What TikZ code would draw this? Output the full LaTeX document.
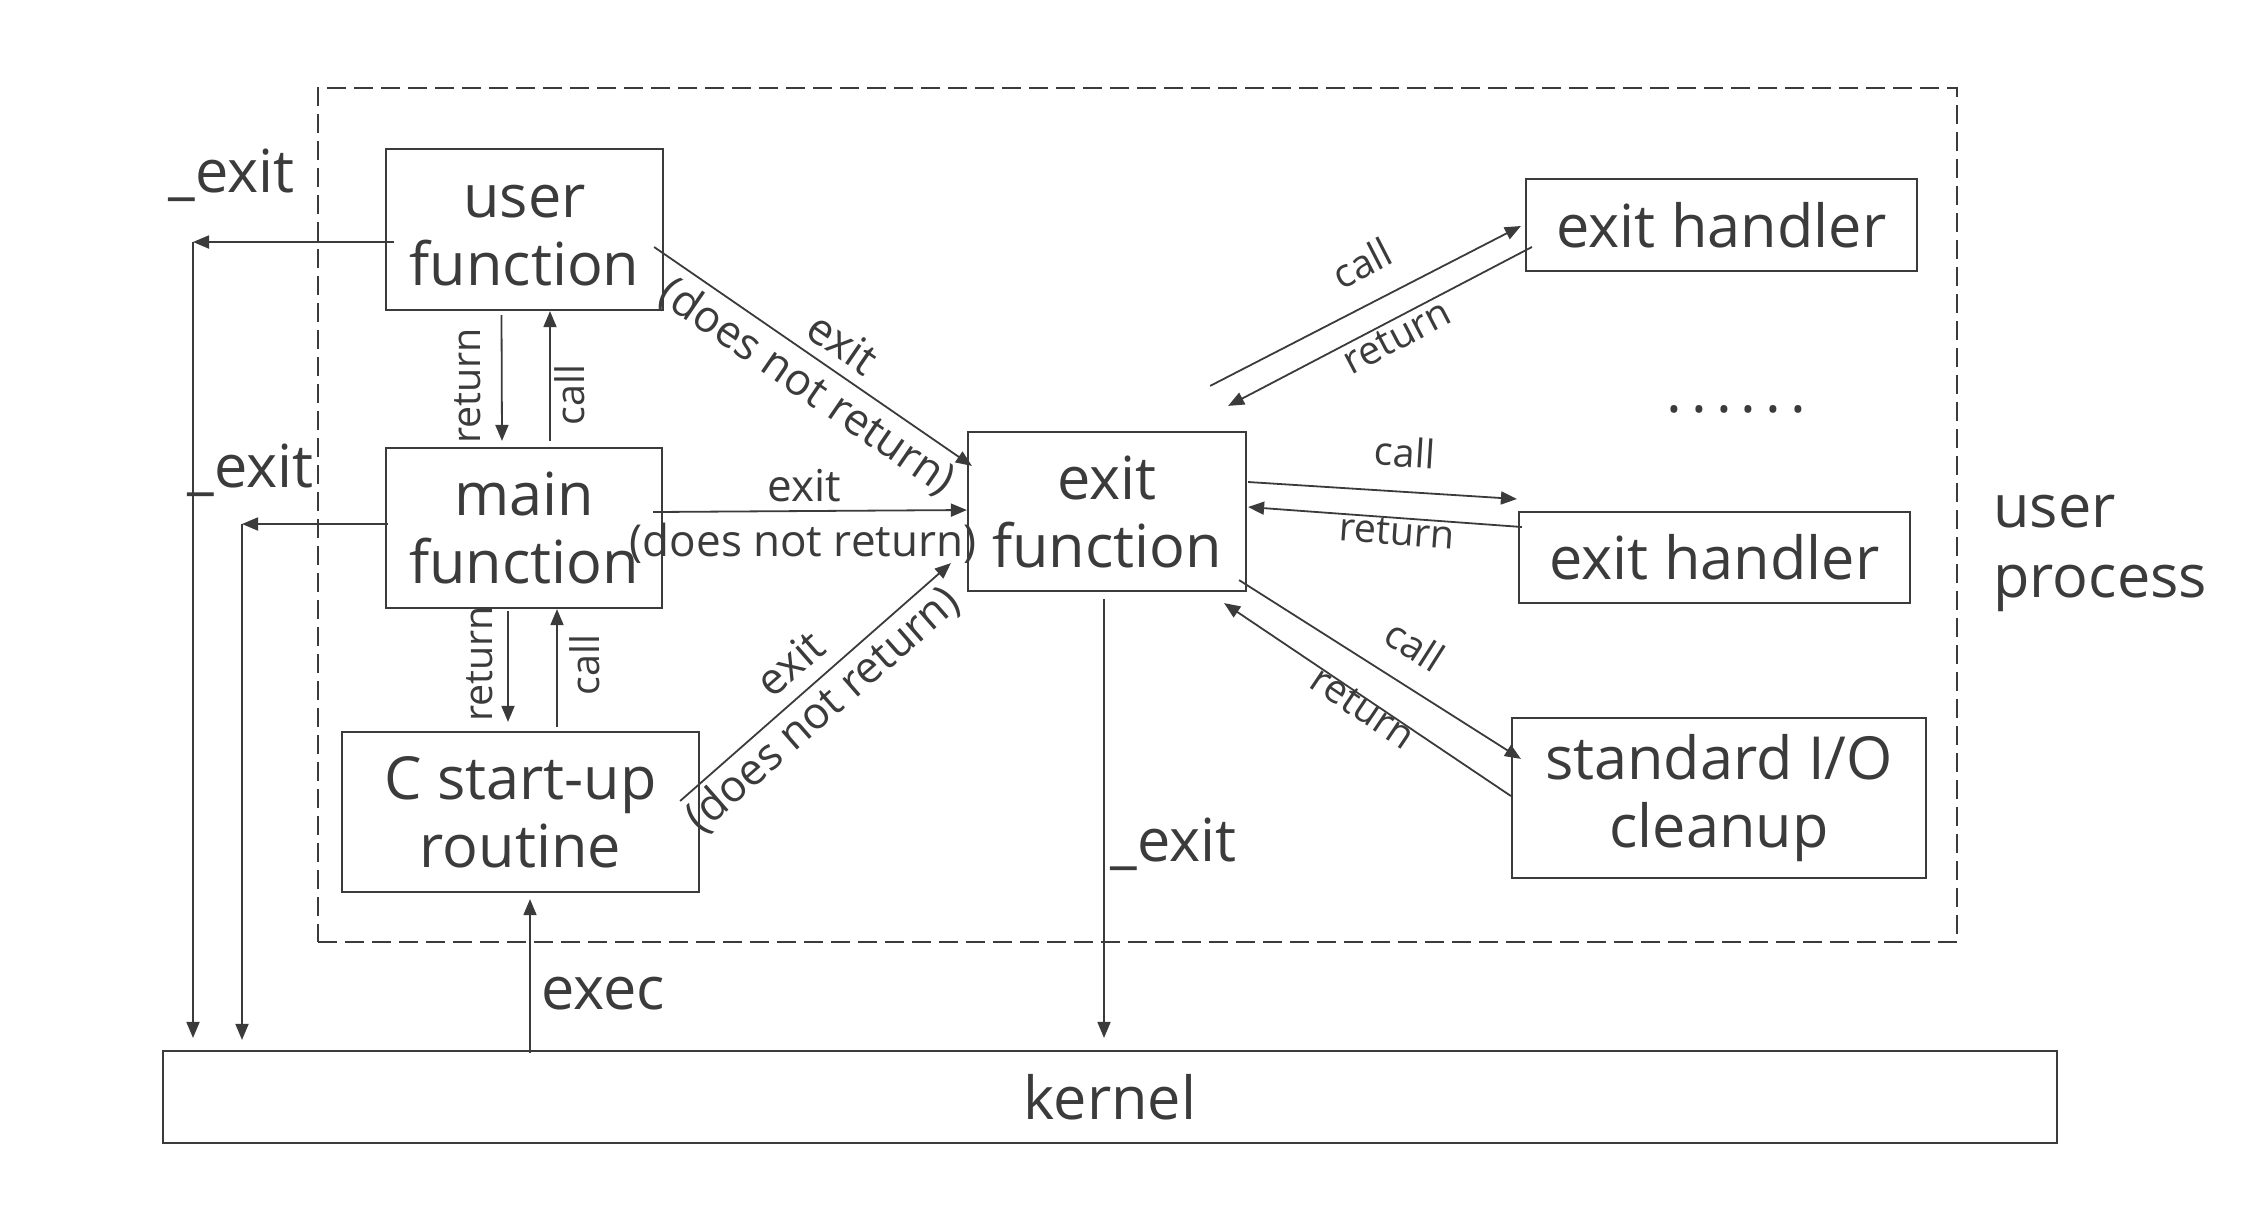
\documentclass[tikz,border=0pt]{standalone}
\usepackage{fontspec}
\setmainfont{Open Sans}
\usetikzlibrary{arrows.meta,calc}
\definecolor{ink}{HTML}{3B3B3B}
\newcommand\fontL{\fontsize{29.7pt}{34pt}\selectfont}
\newcommand\fontM{\fontsize{22pt}{26pt}\selectfont}
\newcommand\fontS{\fontsize{19.7pt}{23pt}\selectfont}
\begin{document}
\begin{tikzpicture}[x=0.5pt,y=-0.5pt,
  box/.style={draw=ink, line width=1.1pt, inner sep=0pt, align=center, font=\fontL, text=ink},
  procbox/.style={draw=ink, line width=0.9pt, dash pattern=on 9.5pt off 4pt, inner sep=0pt},
  arr/.style={draw=ink, line width=0.9pt, -{Triangle[length=8pt,width=6.5pt]}},
  labL/.style={inner sep=0pt, text=ink, font=\fontL},
  labM/.style={inner sep=0pt, text=ink, font=\fontM},
  labS/.style={inner sep=0pt, text=ink, font=\fontS}]
\useasboundingbox (0,0) rectangle (2243,1207);

% user process frame
\node[procbox, minimum width=819.5pt, minimum height=427pt] (proc) at (1137.5,515) {};

% boxes
\node[box, minimum width=138.5pt, minimum height=80.5pt] (uf) at (524.5,229.5) {\vphantom{l}user\\function};
\node[box, minimum width=138pt, minimum height=80pt] (mf) at (524,528) {main\\function};
\node[box, minimum width=178.5pt, minimum height=80pt] (cs) at (520.5,812) {C start-up\\routine};
\node[box, minimum width=139pt, minimum height=79.5pt] (ef) at (1107,511.5) {exit\\function};
\node[box, minimum width=195.5pt, minimum height=46pt] (eh1) at (1721.5,225) {exit handler};
\node[box, minimum width=195.5pt, minimum height=45.5pt] (eh2) at (1714.5,557.5) {exit handler};
\node[box, minimum width=207pt, minimum height=80pt] (sio) at (1719,798) {standard I/O\\cleanup};
\node[box, minimum width=947pt, minimum height=46pt] (kernel) at (1110,1097) {kernel};

% free texts
\node[labL, anchor=base west] (x1) at (168,192) {\_exit};
\node[labL, anchor=base west] (x2) at (187,487) {\_exit};
\node[labL, anchor=base west] (x3) at (1110,861) {\_exit};
\node[labL, anchor=base west] (exec) at (541,1009) {exec};
\node[labL, anchor=north west, align=left, font=\fontsize{29.7pt}{35pt}\selectfont] (up) at (1993,482) {\vphantom{l}user\\process};
\node[labL, anchor=base west] (dots) at (1666,412) {.\kern4.5pt.\kern4.5pt.\kern4.5pt.\kern4.5pt.\kern4.5pt.};

% corner coordinates of the _exit paths
\coordinate (cA) at (193,242);
\coordinate (cB) at (242,524);

% _exit paths
\draw[arr] ($(uf.west)+(9,12.5)$) -- (cA);
\draw[arr] (cA) -- ($(cA |- kernel.north)+(0,-12)$);
\draw[arr] ($(mf.west)+(3,-4)$) -- (cB);
\draw[arr] (cB) -- ($(cB |- kernel.north)+(0,-10)$);

% call / return between user, main and start-up
\draw[arr] ($(uf.south)+(-23,4)$) -- ($(mf.north)+(-22,-6)$);
\draw[arr] ($(mf.north)+(26,-6)$) -- ($(uf.south)+(25.5,0)$);
\draw[arr] ($(mf.south)+(-16,2)$) -- ($(cs.north)+(-12.5,-9)$);
\draw[arr] ($(cs.north)+(36.5,-4)$) -- ($(mf.south)+(33,0)$);
\node[labS, rotate=90] (lr1) at (468,386) {return};
\node[labS, rotate=90] (lc1) at (570,395) {call};
\node[labS, rotate=90] (lr2) at (480,664) {return};
\node[labS, rotate=90] (lc2) at (585,665) {call};

% exit calls
\draw[arr] ($(uf.east)+(-10,17.5)$) -- ($(ef.north west)+(5,35)$);
\node[labM, rotate=-34.5] (ge) at (843,343) {exit};
\node[labM, rotate=-34.5] (gd) at (807,387) {(does not return)};
\draw[arr] ($(mf.east)+(-10,-16)$) -- ($(ef.west)+(0,-1.5)$);
\node[labM] (he) at (804,486) {exit};
\node[labM] (hd) at (803,543) {(does not return)};
\draw[arr] ($(cs.east)+(-20,-11)$) -- ($(ef.south west)+(-16,-29)$);
\node[labM, rotate=41.2] (ie) at (790,663) {exit};
\node[labM, rotate=41.2] (id) at (823,710) {(does not return)};

% _exit to kernel, exec
\draw[arr] ($(ef.south)+(-3,7)$) -- ($(ef.south |- kernel.north)+(-3,-12)$);
\draw[arr] ($(cs.south |- kernel.north)+(9.5,3)$) -- ($(cs.south)+(9.5,6)$);

% exit handlers and standard I/O cleanup
\draw[arr] ($(ef.north east)+(-37,-45)$) -- ($(eh1.west)+(-4,1)$);
\draw[arr] ($(eh1.west)+(7,22)$) -- ($(ef.north east)+(-19,-25)$);
\node[labS, rotate=27.2] (lc3) at (1362,263) {call};
\node[labS, rotate=27.6] (lr3) at (1397,337) {return};

\draw[arr] ($(ef.east)+(1,-29.5)$) -- ($(eh2.west)+(-1,-58.5)$);
\draw[arr] ($(eh2.west)+(4,-30.5)$) -- ($(ef.east)+(1,-4.5)$);
\node[labS, rotate=-3.6] (lc4) at (1405,452) {call};
\node[labS, rotate=-4.1] (lr4) at (1397,532) {return};

\draw[arr] ($(ef.south east)+(-8,-12)$) -- ($(sio.north west)+(10,42)$);
\draw[arr] ($(sio.west)+(0,-2)$) -- ($(ef.south east)+(-23,11)$);
\node[labS, rotate=-32.5] (lc5) at (1415,645) {call};
\node[labS, rotate=-33.9] (lr5) at (1363,708) {return};
\end{tikzpicture}
\end{document}
